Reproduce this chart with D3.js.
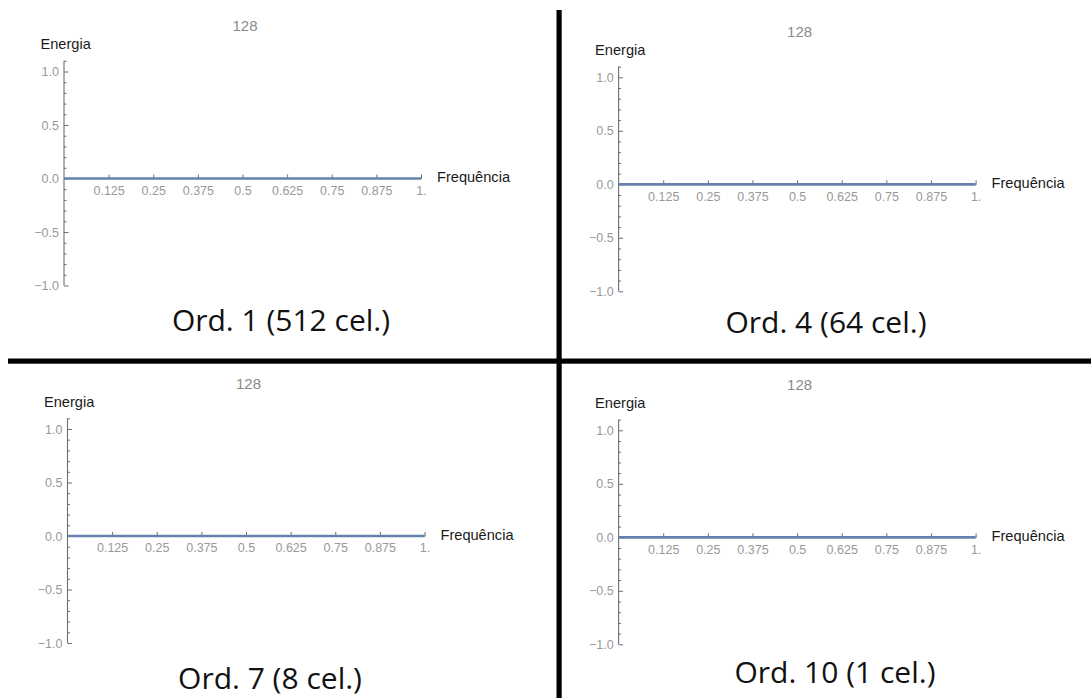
<!DOCTYPE html>
<html>
<head>
<meta charset="utf-8">
<script src="https://cdn.jsdelivr.net/npm/d3@7"></script>
<style>
  html, body { margin: 0; padding: 0; background: #fff; }
  svg { display: block; }
</style>
</head>
<body>
<svg id="chart" width="1091" height="698"></svg>
<script>
// Spectrum panels: energy per frequency for four decomposition orders.
const panelTitles = ["128", "128", "128", "128"];
const captions = ["Ord. 1 (512 cel.)", "Ord. 4 (64 cel.)", "Ord. 7 (8 cel.)", "Ord. 10 (1 cel.)"];

const frequency = [0, 0.125, 0.25, 0.375, 0.5, 0.625, 0.75, 0.875, 1];
const energyOrd1 = [0, 0, 0, 0, 0, 0, 0, 0, 0];
const energyOrd4 = [0, 0, 0, 0, 0, 0, 0, 0, 0];
const energyOrd7 = [0, 0, 0, 0, 0, 0, 0, 0, 0];
const energyOrd10 = [0, 0, 0, 0, 0, 0, 0, 0, 0];
const energySeries = [energyOrd1, energyOrd4, energyOrd7, energyOrd10];

const xTicks = [0.125, 0.25, 0.375, 0.5, 0.625, 0.75, 0.875, 1];
const xTickLabels = ["0.125", "0.25", "0.375", "0.5", "0.625", "0.75", "0.875", "1."];
const yTicks = [-1, -0.5, 0, 0.5, 1];
const yTickLabels = ["\u22121.0", "\u22120.5", "0.0", "0.5", "1.0"];
const yMinorTicks = [-0.9, -0.8, -0.7, -0.6, -0.4, -0.3, -0.2, -0.1,
                     0.1, 0.2, 0.3, 0.4, 0.6, 0.7, 0.8, 0.9, 1.1];
const yAxisLabel = "Energia";
const xAxisLabel = "Frequência";

// Where each panel's origin and caption sit on the page.
const layout = [
  { ox: 64.0,  oy: 178.5, capX: 281, capY: 331 },
  { ox: 618.6, oy: 184.3, capX: 826, capY: 333 },
  { ox: 67.5,  oy: 536.0, capX: 270, capY: 689 },
  { ox: 618.6, oy: 537.3, capX: 835, capY: 683 }
];
const plotW = 357;   // pixels for frequency 0 → 1
const unitH = 107;   // pixels per energy unit

const svg = d3.select("#chart");
svg.append("rect").attr("width", 1091).attr("height", 698).attr("fill", "#fff");

const AXIS = "#6f6f6f";
const TICKTXT = "#999";

layout.forEach((L, i) => {
  const g = svg.append("g");
  const x = d3.scaleLinear().domain([0, 1]).range([L.ox, L.ox + plotW]);
  const y = d3.scaleLinear().domain([-1, 1]).range([L.oy + unitH, L.oy - unitH]);

  // y axis: spine, minor and major ticks pointing into the plot
  g.append("line")
    .attr("x1", x(0)).attr("x2", x(0))
    .attr("y1", y(-1)).attr("y2", y(1.1))
    .attr("stroke", AXIS).attr("stroke-width", 1.1);

  const yMinor = g.append("g").attr("transform", `translate(${x(0)},0)`)
    .call(d3.axisLeft(y).tickValues(yMinorTicks).tickSize(-2.5).tickFormat(() => ""));
  yMinor.select(".domain").remove();
  yMinor.selectAll("line").attr("stroke", AXIS).attr("stroke-width", 1);

  const yMajor = g.append("g").attr("transform", `translate(${x(0)},0)`)
    .call(d3.axisLeft(y).tickValues(yTicks).tickSize(-4.5).tickPadding(5)
      .tickFormat((d, k) => yTickLabels[k]));
  yMajor.select(".domain").remove();
  yMajor.selectAll("line").attr("stroke", AXIS).attr("stroke-width", 1);
  yMajor.selectAll("text")
    .attr("fill", TICKTXT).attr("font-family", "Liberation Sans, Arial, sans-serif")
    .attr("font-size", 12.5);

  // x axis: spine and upward ticks
  g.append("line")
    .attr("x1", x(0)).attr("x2", x(1) + 1)
    .attr("y1", y(0)).attr("y2", y(0))
    .attr("stroke", AXIS).attr("stroke-width", 1.1);

  const xAx = g.append("g").attr("transform", `translate(0,${y(0)})`)
    .call(d3.axisBottom(x).tickValues(xTicks).tickSize(-4).tickPadding(7.5)
      .tickFormat((d, k) => xTickLabels[k]));
  xAx.select(".domain").remove();
  xAx.selectAll("line").attr("stroke", AXIS).attr("stroke-width", 1);
  xAx.selectAll("text")
    .attr("fill", TICKTXT).attr("font-family", "Liberation Sans, Arial, sans-serif")
    .attr("font-size", 12.5);

  // energy spectrum line
  const pts = frequency.map((f, k) => [f, energySeries[i][k]]);
  g.append("path")
    .datum(pts)
    .attr("d", d3.line().x(d => x(d[0])).y(d => y(d[1])))
    .attr("fill", "none")
    .attr("stroke", "#6482ad")
    .attr("stroke-width", 2.7);

  // title and axis labels
  g.append("text")
    .attr("x", x(0.5) + 2.5).attr("y", y(0) - 147.5)
    .attr("text-anchor", "middle")
    .attr("font-family", "Liberation Sans, Arial, sans-serif")
    .attr("font-size", 15).attr("fill", "#8a8a8a")
    .text(panelTitles[i]);

  g.append("text")
    .attr("x", x(0) - 23.5).attr("y", y(0) - 129.3)
    .attr("font-family", "Liberation Sans, Arial, sans-serif")
    .attr("font-size", 14.6).attr("fill", "#1a1a1a")
    .text(yAxisLabel);

  g.append("text")
    .attr("x", x(1) + 16).attr("y", y(0) + 3.7)
    .attr("font-family", "Liberation Sans, Arial, sans-serif")
    .attr("font-size", 14.6).attr("fill", "#1a1a1a")
    .text(xAxisLabel);

  // caption below the panel
  svg.append("text")
    .attr("x", L.capX).attr("y", L.capY)
    .attr("text-anchor", "middle")
    .attr("font-family", "Open Sans, Lato, sans-serif")
    .attr("font-size", 30).attr("fill", "#111")
    .text(captions[i]);
});

// quadrant dividers
svg.append("rect").attr("x", 556.5).attr("y", 10).attr("width", 5.2).attr("height", 688).attr("fill", "#000");
svg.append("rect").attr("x", 8).attr("y", 358.5).attr("width", 1083).attr("height", 5.2).attr("fill", "#000");
</script>
</body>
</html>
